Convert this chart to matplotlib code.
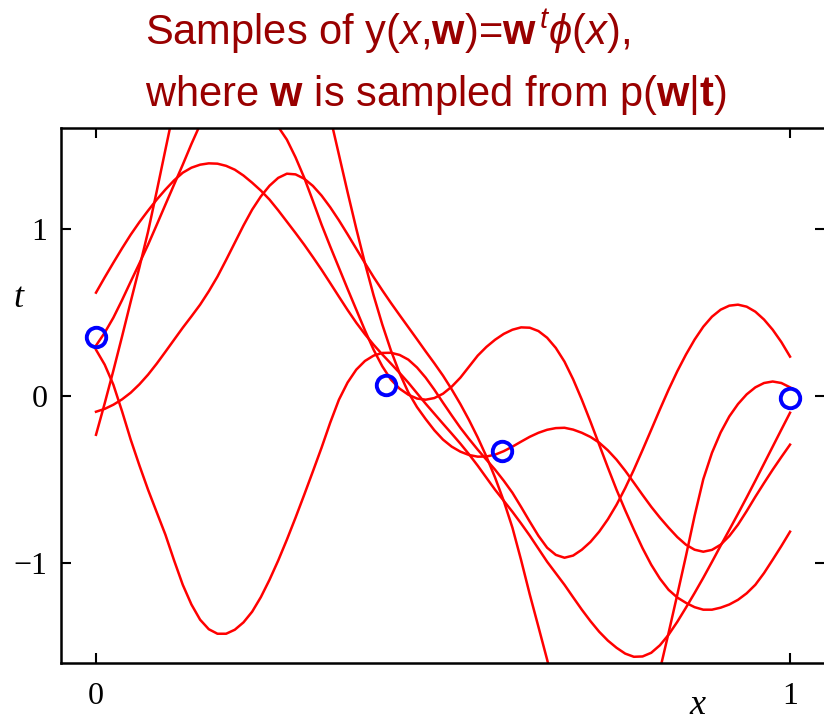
import numpy as np
import matplotlib
matplotlib.use("Agg")
import matplotlib.pyplot as plt

# sample grid on x, every 0.0125
x = np.linspace(0.0, 1.0, 81)

# five posterior samples y(x, w) (off-axis parts estimated)
sample_a = [0.617, 0.708, 0.796, 0.882, 0.964, 1.039, 1.108, 1.174, 1.234, 1.289,
            1.335, 1.365, 1.383, 1.391, 1.389, 1.376, 1.353, 1.318, 1.275, 1.228,
            1.174, 1.110, 1.042, 0.974, 0.904, 0.830, 0.754, 0.674, 0.593, 0.513,
            0.437, 0.368, 0.305, 0.247, 0.192, 0.136, 0.078, 0.015, -0.048, -0.108,
            -0.168, -0.227, -0.287, -0.351, -0.419, -0.491, -0.563, -0.629, -0.695, -0.765,
            -0.838, -0.916, -0.994, -1.063, -1.132, -1.207, -1.281, -1.350, -1.413, -1.466,
            -1.509, -1.544, -1.563, -1.561, -1.539, -1.494, -1.431, -1.354, -1.269, -1.181,
            -1.090, -0.995, -0.898, -0.803, -0.707, -0.609, -0.509, -0.407, -0.305, -0.203,
            -0.102]
sample_b = [0.300, 0.377, 0.467, 0.572, 0.683, 0.792, 0.904, 1.023, 1.144, 1.264,
            1.383, 1.507, 1.623, 1.722, 1.800, 1.853, 1.880, 1.881, 1.850, 1.772,
            1.680, 1.610, 1.533, 1.427, 1.305, 1.166, 1.024, 0.893, 0.766, 0.639,
            0.515, 0.391, 0.275, 0.176, 0.096, 0.042, 0.006, -0.017, -0.024, -0.014,
            0.012, 0.054, 0.108, 0.174, 0.240, 0.292, 0.335, 0.370, 0.395, 0.409,
            0.407, 0.387, 0.347, 0.286, 0.204, 0.098, -0.024, -0.156, -0.293, -0.430,
            -0.563, -0.686, -0.802, -0.913, -1.012, -1.095, -1.162, -1.208, -1.240, -1.266,
            -1.281, -1.281, -1.269, -1.250, -1.222, -1.183, -1.132, -1.062, -0.982, -0.900,
            -0.814]
sample_c = [0.275, 0.186, 0.066, -0.093, -0.263, -0.417, -0.563, -0.698, -0.832, -0.986,
            -1.132, -1.250, -1.341, -1.398, -1.425, -1.425, -1.401, -1.357, -1.293, -1.206,
            -1.102, -0.987, -0.862, -0.730, -0.593, -0.453, -0.311, -0.161, -0.024, 0.079,
            0.156, 0.208, 0.240, 0.256, 0.257, 0.244, 0.216, 0.169, 0.108, 0.036,
            -0.042, -0.118, -0.192, -0.259, -0.323, -0.383, -0.443, -0.509, -0.581, -0.666,
            -0.754, -0.839, -0.910, -0.953, -0.970, -0.957, -0.922, -0.875, -0.814, -0.740,
            -0.653, -0.553, -0.443, -0.325, -0.204, -0.082, 0.036, 0.146, 0.246, 0.336,
            0.413, 0.473, 0.515, 0.539, 0.545, 0.533, 0.503, 0.456, 0.395, 0.321,
            0.234]
sample_d = [-0.096, -0.079, -0.054, -0.022, 0.018, 0.068, 0.126, 0.192, 0.263, 0.335,
            0.407, 0.475, 0.545, 0.625, 0.713, 0.813, 0.916, 1.019, 1.114, 1.193,
            1.257, 1.304, 1.329, 1.325, 1.299, 1.256, 1.198, 1.128, 1.050, 0.966,
            0.880, 0.794, 0.710, 0.631, 0.555, 0.482, 0.410, 0.338, 0.265, 0.194,
            0.120, 0.038, -0.050, -0.146, -0.250, -0.364, -0.490, -0.630, -0.790, -0.984,
            -1.190, -1.384, -1.580, -1.793, -2.000, -2.190, -2.350, -2.450, -2.500, -2.490,
            -2.450, -2.340, -2.200, -2.030, -1.850, -1.642, -1.420, -1.192, -0.960, -0.719,
            -0.500, -0.342, -0.220, -0.124, -0.050, 0.008, 0.050, 0.076, 0.085, 0.076,
            0.050]
sample_e = [-0.234, -0.046, 0.150, 0.354, 0.563, 0.768, 0.982, 1.224, 1.473, 1.720,
            1.950, 2.140, 2.300, 2.460, 2.600, 2.710, 2.800, 2.860, 2.900, 2.890,
            2.850, 2.790, 2.700, 2.570, 2.400, 2.170, 1.900, 1.668, 1.443, 1.218,
            1.000, 0.793, 0.600, 0.426, 0.270, 0.134, 0.020, -0.068, -0.140, -0.207,
            -0.263, -0.305, -0.335, -0.355, -0.365, -0.364, -0.353, -0.332, -0.305, -0.275,
            -0.246, -0.222, -0.204, -0.194, -0.192, -0.203, -0.222, -0.247, -0.281, -0.327,
            -0.383, -0.449, -0.521, -0.594, -0.665, -0.730, -0.790, -0.846, -0.892, -0.922,
            -0.934, -0.923, -0.892, -0.840, -0.772, -0.691, -0.605, -0.523, -0.443, -0.367,
            -0.293]
samples = [sample_a, sample_b, sample_c, sample_d, sample_e]

# observed data
x_obs = [0.0, 0.418, 0.585, 1.0]
t_obs = [0.353, 0.066, -0.333, -0.013]

title_color = "#990000"

plt.rcParams["mathtext.fontset"] = "custom"
plt.rcParams["mathtext.rm"] = "Liberation Sans"
plt.rcParams["mathtext.it"] = "Liberation Sans:italic"
plt.rcParams["mathtext.bf"] = "Liberation Sans:bold"

fig = plt.figure(figsize=(8.24, 7.24), dpi=100)
ax = fig.add_axes([0.0744, 0.0843, 0.9265, 0.7383])

for s in samples:
    ax.plot(x, s, color="#ff0000", lw=1.8)
ax.plot(x_obs, t_obs, "o", ms=14, mfc="none", mec="#0000ff", mew=2.8, zorder=5)

ax.set_xlim(-0.05, 1.05)
ax.set_ylim(-1.6, 1.6)
ax.set_xticks([0, 1])
ax.set_yticks([-1, 0, 1])
ax.set_xticklabels(["0", "1"])
ax.set_yticklabels(["\u22121", "0", "1"])
ax.tick_params(direction="in", length=7, width=1.5, top=True, right=True,
               labelsize=23, pad=10)
ax.tick_params(axis="x", pad=14)
for lab in ax.get_xticklabels() + ax.get_yticklabels():
    lab.set_family("Liberation Serif")
for sp in ax.spines.values():
    sp.set_linewidth(1.8)

# axis labels sit at odd places in the original figure
fig.text(697 / 824, 2 / 724, "x", fontsize=26, style="italic",
         family="Liberation Serif", ha="center", va="bottom")
ax.text(-0.112, 0.53, "t", fontsize=26, style="italic", family="Liberation Serif",
        ha="center", va="baseline", clip_on=False)

fig.text(145 / 824, 1 - 45 / 724,
         r"Samples of y($x$,$\mathbf{w}$)=$\mathbf{w}^{\,t}\phi$($x$),",
         fontsize=30, color=title_color, family="Liberation Sans",
         ha="left", va="baseline")
fig.text(145 / 824, 1 - 106 / 724,
         r"where $\mathbf{w}$ is sampled from p($\mathbf{w}$|$\mathbf{t}$)",
         fontsize=30, color=title_color, family="Liberation Sans",
         ha="left", va="baseline")

fig.savefig("out.png", dpi=100)
